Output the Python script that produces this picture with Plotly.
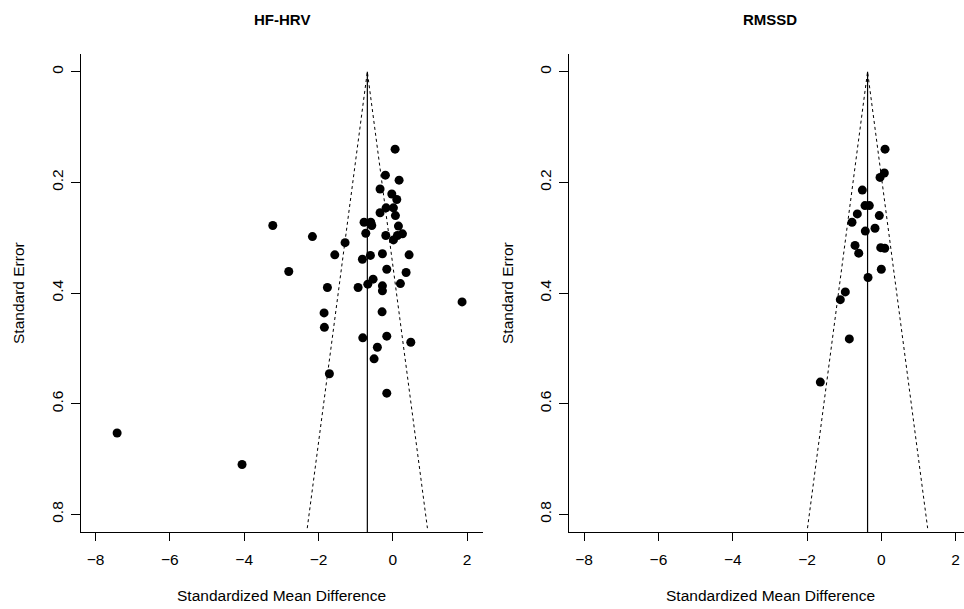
import plotly.graph_objects as go

# ---- Data: HF-HRV funnel plot ----
hf_smd = [0.062, -0.199, 0.170, -0.342, -0.027, 0.108, -0.180, 0.017, -0.342, 0.071,
          -0.773, -0.593, -0.566, 0.152, -2.163, -0.727, -0.189, 0.125, 0.260, 0.017,
          -1.284, -1.561, -0.818, -0.602, -0.279, 0.439, -2.800, -0.162, 0.358, -0.530,
          -1.760, -0.934, -0.673, -0.279, 0.205, -0.279, 1.865, -1.849, -0.288, -1.841,
          -3.230, -7.420, -4.057, -0.808, -0.162, 0.485, -0.415, -0.503, -1.706, -0.162]
hf_se = [0.140, 0.187, 0.196, 0.212, 0.221, 0.231, 0.246, 0.246, 0.255, 0.260,
         0.272, 0.272, 0.278, 0.279, 0.298, 0.292, 0.296, 0.296, 0.293, 0.304,
         0.309, 0.331, 0.339, 0.332, 0.329, 0.331, 0.361, 0.357, 0.363, 0.375,
         0.390, 0.390, 0.384, 0.387, 0.383, 0.396, 0.416, 0.436, 0.434, 0.462,
         0.278, 0.653, 0.710, 0.481, 0.478, 0.489, 0.498, 0.519, 0.546, 0.581]
hf_est = -0.685

# ---- Data: RMSSD funnel plot ----
rm_smd = [0.100, 0.081, -0.035, -0.511, -0.439, -0.323, -0.646, -0.054, -0.789, -0.170,
          -0.431, -0.708, -0.016, 0.092, -0.608, 0.000, -0.358, -0.969, -1.104, -0.861,
          -1.642]
rm_se = [0.140, 0.183, 0.191, 0.214, 0.242, 0.242, 0.257, 0.260, 0.272, 0.283,
         0.288, 0.314, 0.318, 0.319, 0.328, 0.357, 0.372, 0.398, 0.412, 0.483,
         0.561]
rm_est = -0.37

se_funnel_max = 0.825
z = 1.96

x_ticks = [-8, -6, -4, -2, 0, 2]
y_ticks = [0, 0.2, 0.4, 0.6, 0.8]
y_ticklabels = ["0", "0.2", "0.4", "0.6", "0.8"]

panel_titles = ["HF-HRV", "RMSSD"]
x_title = "Standardized Mean Difference"
y_title = "Standard Error"

FONT = "Liberation Sans, Arial, Helvetica, sans-serif"
W, H = 964, 609

fig = go.Figure()

panels = [
    (hf_smd, hf_se, hf_est, "x", "y"),
    (rm_smd, rm_se, rm_est, "x2", "y2"),
]
for smd, se, est, xa, ya in panels:
    # funnel (pseudo confidence region)
    fig.add_trace(go.Scatter(
        x=[est - z * se_funnel_max, est, est + z * se_funnel_max],
        y=[se_funnel_max, 0, se_funnel_max],
        mode="lines", line=dict(color="black", width=1, dash="dot"),
        xaxis=xa, yaxis=ya, hoverinfo="skip", showlegend=False))
    # vertical line at the pooled estimate
    fig.add_trace(go.Scatter(
        x=[est, est], y=[0, 0.8325],
        mode="lines", line=dict(color="black", width=1.2),
        xaxis=xa, yaxis=ya, hoverinfo="skip", showlegend=False))
    # studies
    fig.add_trace(go.Scatter(
        x=smd, y=se, mode="markers",
        marker=dict(color="black", size=9, line=dict(width=0)),
        xaxis=xa, yaxis=ya, showlegend=False))

left_dom = [80.7 / W, 482.7 / W]
right_dom = [569.3 / W, 1.0]
y_dom = [(H - 532.3) / H, (H - 54.3) / H]

xcommon = dict(
    tickmode="array", tickvals=x_ticks, ticks="outside", ticklen=8, tickwidth=1,
    tickcolor="black", showline=True, linecolor="black", linewidth=1,
    showgrid=False, zeroline=False, ticklabelstandoff=5,
    tickfont=dict(family=FONT, size=15.5, color="black"),
)
ycommon = dict(
    tickmode="array", tickvals=y_ticks, ticktext=y_ticklabels, ticks="outside",
    ticklen=9, tickwidth=1, tickcolor="black", showline=True, linecolor="black",
    linewidth=1, showgrid=False, zeroline=False, tickangle=-90,
    range=[0.8325, -0.0315], ticklabelstandoff=2,
    tickfont=dict(family=FONT, size=15.5, color="black"),
)

fig.update_layout(
    width=W, height=H, margin=dict(l=0, r=0, t=0, b=0),
    plot_bgcolor="white", paper_bgcolor="white",
    xaxis=dict(domain=left_dom, range=[-8.40, 2.42], anchor="y", **xcommon),
    yaxis=dict(domain=y_dom, anchor="x", **ycommon),
    xaxis2=dict(domain=right_dom, range=[-8.40, 2.226], anchor="y2", **xcommon),
    yaxis2=dict(domain=y_dom, anchor="x2", **ycommon),
)

centers = [(80.7 + 482.7) / 2 / W, (569.3 + 971.3) / 2 / W]
yt_x = [18 / W, 507 / W]
for i in range(2):
    fig.add_annotation(text="<b>" + panel_titles[i] + "</b>", xref="paper", yref="paper",
                       x=centers[i], y=(H - 20) / H, showarrow=False,
                       xanchor="center", yanchor="middle",
                       font=dict(family=FONT, size=15, color="black"))
    fig.add_annotation(text=x_title, xref="paper", yref="paper",
                       x=centers[i], y=(H - 595) / H, showarrow=False,
                       xanchor="center", yanchor="middle",
                       font=dict(family=FONT, size=15.5, color="black"))
    fig.add_annotation(text=y_title, xref="paper", yref="paper",
                       x=yt_x[i], y=(H - 293) / H, showarrow=False, textangle=-90,
                       xanchor="center", yanchor="middle",
                       font=dict(family=FONT, size=15.5, color="black"))

fig.write_html("out.html")
